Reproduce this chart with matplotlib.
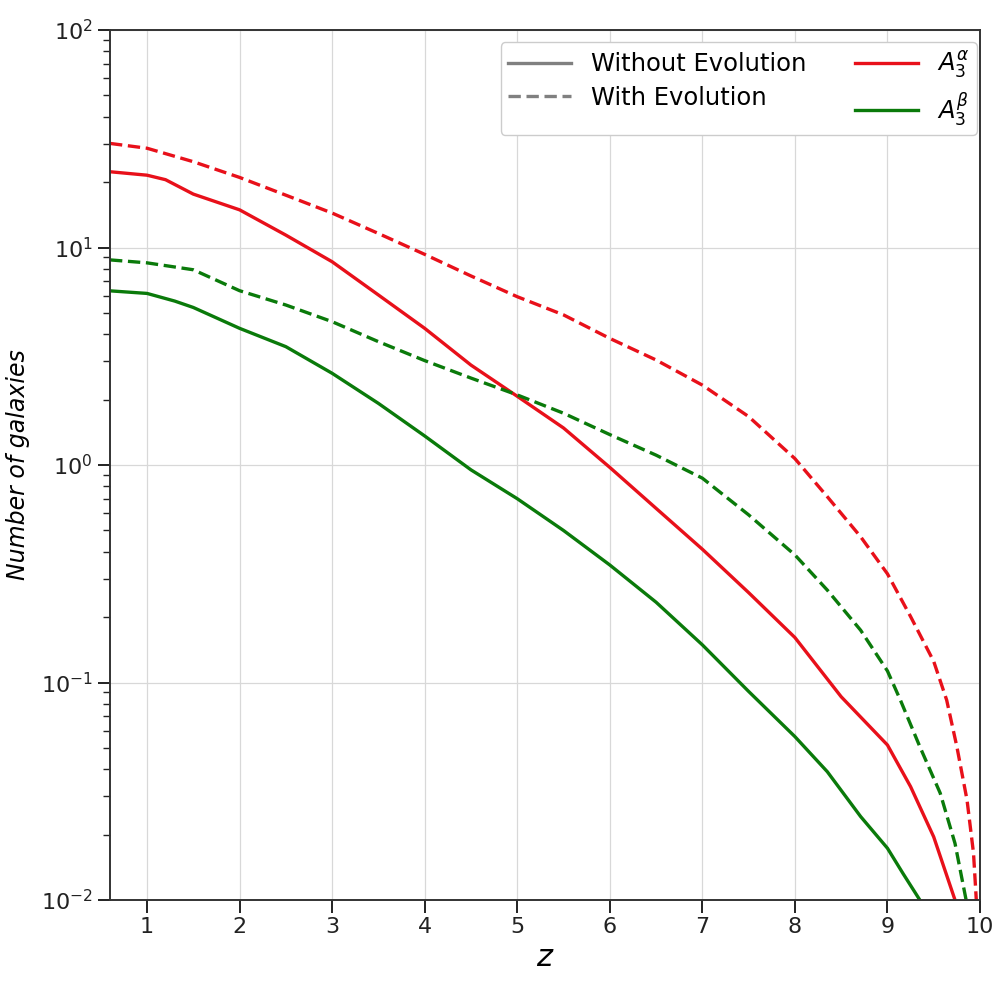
# Number of galaxies vs redshift, with / without evolution
import matplotlib
matplotlib.use("Agg")
import matplotlib.pyplot as plt
from matplotlib.lines import Line2D

# ── data ────────────────────────────────────────────────────────────────
z_a_evo = [0.6, 1.0, 1.5, 2.0, 2.5, 3.0, 3.5, 4.0, 4.5, 5.0, 5.5, 6.0, 6.5, 7.0,
           7.5, 8.0, 8.35, 8.71, 9.0, 9.25, 9.5, 9.64, 9.75, 9.86, 9.93, 9.96, 9.97]
n_a_evo = [30.1, 28.6, 24.8, 21.0, 17.4, 14.4, 11.6, 9.3, 7.4, 5.94, 4.90, 3.82, 3.04, 2.33,
           1.67, 1.07, 0.715, 0.468, 0.316, 0.201, 0.125, 0.083, 0.0507, 0.0288, 0.0164,
           0.01, 0.009]

z_a = [0.6, 1.0, 1.2, 1.5, 2.0, 2.5, 3.0, 3.5, 4.0, 4.5, 5.0, 5.5, 6.0, 6.5, 7.0,
       7.5, 8.0, 8.5, 9.0, 9.25, 9.5, 9.73, 9.76]
n_a = [22.3, 21.5, 20.5, 17.6, 14.9, 11.4, 8.6, 6.05, 4.25, 2.88, 2.07, 1.48, 0.975, 0.632, 0.41,
       0.259, 0.161, 0.086, 0.0516, 0.0332, 0.0195, 0.01, 0.009]

z_b_evo = [0.6, 1.0, 1.5, 2.0, 2.5, 3.0, 3.5, 4.0, 4.5, 5.0, 5.5, 6.0, 6.5, 7.0,
           7.5, 8.0, 8.35, 8.71, 9.0, 9.14, 9.35, 9.57, 9.73, 9.85, 9.87]
n_b_evo = [8.77, 8.5, 7.9, 6.33, 5.44, 4.56, 3.69, 3.02, 2.51, 2.10, 1.73, 1.38, 1.11, 0.87,
           0.59, 0.386, 0.266, 0.174, 0.113, 0.083, 0.0507, 0.031, 0.0182, 0.01, 0.009]

z_b = [0.6, 1.0, 1.3, 1.5, 2.0, 2.5, 3.0, 3.5, 4.0, 4.5, 5.0, 5.5, 6.0, 6.5, 7.0,
       7.5, 8.0, 8.35, 8.71, 9.0, 9.17, 9.35, 9.38]
n_b = [6.32, 6.15, 5.67, 5.3, 4.25, 3.50, 2.64, 1.92, 1.36, 0.95, 0.70, 0.50, 0.347, 0.234, 0.149,
       0.091, 0.0564, 0.0389, 0.0242, 0.0173, 0.0132, 0.01, 0.009]

RED = "#e8101a"
GREEN = "#0a7a0a"
LW = 2.4
DASH = (0, (3.7, 1.7))

fig = plt.figure(figsize=(10, 10), dpi=100)
ax = fig.add_axes([0.11, 0.10, 0.87, 0.87])

ax.plot(z_a_evo, n_a_evo, color=RED, lw=LW, ls=DASH)
ax.plot(z_a, n_a, color=RED, lw=LW)
ax.plot(z_b_evo, n_b_evo, color=GREEN, lw=LW, ls=DASH)
ax.plot(z_b, n_b, color=GREEN, lw=LW)

ax.set_yscale("log")
ax.set_xlim(0.6, 10)
ax.set_ylim(1e-2, 1e2)
ax.set_xticks(range(1, 11))

ax.grid(True, which="major", color="#d8d8d8", lw=0.9)
ax.set_axisbelow(True)

ax.tick_params(which="major", direction="out", length=9, width=1.4, labelsize=16, colors="#222222")
ax.tick_params(which="minor", direction="out", length=5, width=1.0, colors="#222222")
ax.tick_params(axis="x", which="minor", length=0)
for s in ax.spines.values():
    s.set_linewidth(1.4)
    s.set_color("#333333")

ax.set_xlabel("$z$", fontsize=22, labelpad=4)
ax.set_ylabel("Number of galaxies", fontsize=17, style="italic", labelpad=8)

# legend: line styles + colours
handles = [
    Line2D([], [], color="gray", lw=LW, ls="-", label="Without Evolution"),
    Line2D([], [], color="gray", lw=LW, ls=DASH, label="With Evolution"),
    Line2D([], [], color=RED, lw=LW, label=r"$A_3^{\alpha}$"),
    Line2D([], [], color=GREEN, lw=LW, label=r"$A_3^{\beta}$"),
]
ax.legend(handles=handles, ncol=2, loc="upper right", bbox_to_anchor=(0.9966, 0.986),
          fontsize=17.5, handlelength=2.6, columnspacing=2.0, framealpha=1,
          borderaxespad=0.0, borderpad=0.3, labelspacing=0.4)

plt.savefig("out.png", dpi=100)
plt.close(fig)
